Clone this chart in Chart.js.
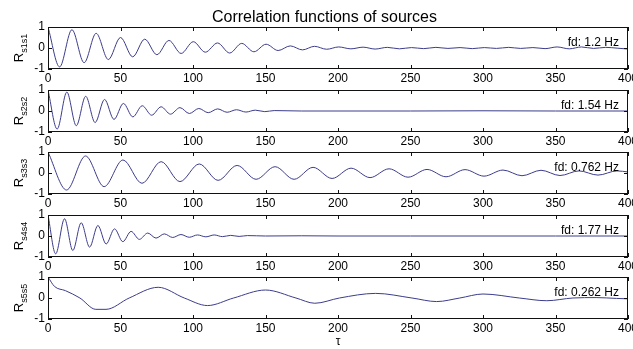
<!DOCTYPE html>
<html><head><meta charset="utf-8">
<script src="https://cdn.jsdelivr.net/npm/chart.js@4.4.0/dist/chart.umd.min.js"></script>
<style>
html,body{margin:0;padding:0;background:#fff;}
#wrap{position:relative;width:633px;height:349px;overflow:hidden;background:#fff;}
.cv{position:absolute;left:0;top:0;width:633px;height:349px;}
</style></head><body>
<div id="wrap">
<div class="cv"><canvas id="c0"></canvas></div>
<div class="cv"><canvas id="c1"></canvas></div>
<div class="cv"><canvas id="c2"></canvas></div>
<div class="cv"><canvas id="c3"></canvas></div>
<div class="cv"><canvas id="c4"></canvas></div>
</div>
<script>
// ---- data ----
const titleText = 'Correlation functions of sources';
const xLabel = 'τ';
const xTicks = [0, 50, 100, 150, 200, 250, 300, 350, 400];
const yTicks = [-1, 0, 1];
const subs = ['s1s1', 's2s2', 's3s3', 's4s4', 's5s5'];
const fdLabels = ['fd: 1.2 Hz', 'fd: 1.54 Hz', 'fd: 0.762 Hz', 'fd: 1.77 Hz', 'fd: 0.262 Hz'];

const tau1 = [0, 8, 16.5, 24.9, 33.2, 41.6, 50, 58.4, 66.7, 75.1, 83.4, 91.8, 100.2, 108.5, 116.9, 125.3, 133.6, 142, 150.4, 158.7, 167.1, 175.5, 183.8, 192.2, 200.5, 208.9, 217.3, 225.6, 234, 242.4, 250.7, 259.1, 267.5, 275.8, 284.2, 292.6, 300.9, 309.3, 317.7, 326, 334.4, 342.8, 351.1, 359.5, 367.9, 376.2, 384.6, 393, 400];
const r1 = [1, -0.9, 0.87, -0.7, 0.7, -0.55, 0.5, -0.42, 0.42, -0.32, 0.36, -0.26, 0.3, -0.2, 0.24, -0.24, 0.22, -0.18, 0.18, -0.12, 0.1, -0.09, 0.08, -0.06, 0.05, -0.04, 0.04, -0.05, 0.03, -0.04, 0.02, -0.03, 0.03, -0.02, 0.02, -0.03, 0.02, -0.02, 0.03, -0.02, 0.02, -0.03, 0.05, -0.04, 0.05, -0.02, 0.03, -0.01, -0.05];

const tau2 = [0, 6.3, 13, 19.5, 26, 32.5, 39, 45.5, 52, 58.5, 65, 71.5, 78, 84.5, 91, 97.5, 104, 110.5, 117, 123.5, 130, 136.5, 143, 149.5, 156, 175, 200, 250, 300, 350, 400];
const r2 = [1, -0.86, 0.9, -0.7, 0.7, -0.55, 0.55, -0.4, 0.36, -0.28, 0.25, -0.2, 0.2, -0.15, 0.16, -0.12, 0.12, -0.08, 0.1, -0.06, 0.06, -0.05, 0.04, -0.03, 0.02, 0, 0, 0, 0.01, 0, 0];

const tau3 = [0, 12.8, 25.9, 38.7, 51.7, 64.8, 78, 91, 104.3, 117.3, 130.4, 143.5, 156.6, 169.7, 182.8, 195.9, 209, 222.1, 235.2, 248.3, 261.4, 274.5, 287.6, 300.7, 313.8, 326.9, 340, 353.1, 366.2, 379.3, 392.4, 400];
const r3 = [1, -0.81, 0.81, -0.65, 0.62, -0.49, 0.54, -0.41, 0.43, -0.35, 0.36, -0.3, 0.3, -0.3, 0.27, -0.26, 0.23, -0.22, 0.2, -0.2, 0.17, -0.18, 0.16, -0.15, 0.14, -0.13, 0.13, -0.12, 0.1, -0.1, 0.1, 0.05];

const tau4 = [0, 5.3, 11.4, 17.1, 22.9, 28.7, 34.4, 40.1, 45.9, 51.6, 57.3, 63, 68.8, 74.5, 80.2, 86, 91.7, 97.4, 103.1, 108.9, 114.6, 120.3, 126, 131.8, 137.5, 150, 175, 200, 250, 300, 350, 400];
const r4 = [1, -0.85, 0.82, -0.69, 0.63, -0.53, 0.5, -0.38, 0.34, -0.27, 0.22, -0.16, 0.14, -0.1, 0.1, -0.07, 0.07, -0.06, 0.05, -0.04, 0.05, -0.03, 0.03, -0.02, 0.02, 0, 0.01, 0, 0, 0, 0, 0];

const tau5 = [0, 4.5, 12, 22, 33, 40, 56, 76, 94, 110, 128, 150, 171, 184, 201, 226, 251, 268, 284, 300, 325, 344, 362, 378, 392, 400];
const r5 = [1, 0.55, 0.35, 0, -0.54, -0.54, 0, 0.51, 0, -0.36, 0, 0.38, 0, -0.25, 0, 0.22, 0, -0.17, 0, 0.19, 0, -0.13, 0, 0.02, -0.02, -0.04];

const taus = [tau1, tau2, tau3, tau4, tau5];
const vals = [r1, r2, r3, r4, r5];

// ---- layout / style ----
const FONT = '"Liberation Sans", Arial, Helvetica, sans-serif';
const W = 633, HT = 349;
const TOPS = [27, 90, 152, 215, 277];
const PH = 42, LEFT = 48, RIGHT = 628;
const LINE = '#3c3c8c';

const decor = {
  id: 'decor',
  afterDatasetsDraw(chart, args, opts) {
    const { ctx, chartArea: a, scales: { x, y } } = chart;
    ctx.save();
    ctx.strokeStyle = '#111';
    ctx.lineWidth = 1;
    ctx.strokeRect(Math.round(a.left) + 0.5, Math.round(a.top) + 0.5, Math.round(a.right - a.left) - 1, Math.round(a.bottom - a.top) - 1);
    ctx.beginPath();
    xTicks.forEach(v => {
      const px = Math.round(x.getPixelForValue(v)) + 0.5;
      ctx.moveTo(px, a.top); ctx.lineTo(px, a.top + 4);
      ctx.moveTo(px, a.bottom); ctx.lineTo(px, a.bottom - 4);
    });
    yTicks.forEach(v => {
      const py = Math.round(y.getPixelForValue(v)) + 0.5;
      ctx.moveTo(a.left, py); ctx.lineTo(a.left + 4, py);
      ctx.moveTo(a.right, py); ctx.lineTo(a.right - 4, py);
    });
    ctx.stroke();
    // fd label
    ctx.fillStyle = '#000';
    ctx.font = '12px ' + FONT;
    ctx.textAlign = 'right';
    ctx.textBaseline = 'middle';
    ctx.fillText(opts.fd, 619, (a.top + a.bottom) / 2 - 5);
    // y label R_sub (rotated)
    const cy = (a.top + a.bottom) / 2;
    ctx.translate(23, cy);
    ctx.rotate(-Math.PI / 2);
    ctx.font = '13px ' + FONT;
    const wR = ctx.measureText('R').width;
    ctx.font = '9px ' + FONT;
    const wS = ctx.measureText(opts.sub).width;
    const start = -(wR + wS) / 2;
    ctx.textAlign = 'left';
    ctx.textBaseline = 'alphabetic';
    ctx.font = '13px ' + FONT;
    ctx.fillText('R', start, 0);
    ctx.font = '9px ' + FONT;
    ctx.fillText(opts.sub, start + wR, 4);
    ctx.restore();
  }
};

function makeChart(i) {
  const isFirst = i === 0, isLast = i === 4;
  const top = TOPS[i];
  const xH = isLast ? 30 : 16;
  const padLeft = isFirst ? 21 : 0;
  const yW = LEFT - padLeft;
  const data = taus[i].map((t, k) => ({ x: t, y: vals[i][k] }));
  return new Chart(document.getElementById('c' + i), {
    type: 'line',
    data: { datasets: [{ data, borderColor: LINE, borderWidth: 1, pointRadius: 0, fill: false, cubicInterpolationMode: 'monotone' }] },
    options: {
      responsive: true,
      maintainAspectRatio: false,
      animation: false,
      events: [],
      layout: { padding: { left: padLeft, right: W - RIGHT, top: isFirst ? 0 : top, bottom: HT - (top + PH) - xH } },
      plugins: {
        legend: { display: false },
        tooltip: { enabled: false },
        title: isFirst ? { display: true, text: titleText, color: '#000', font: { family: FONT, size: 16, weight: 'normal' }, padding: { top: 7.8, bottom: 0 } } : { display: false },
        decor: { sub: subs[i], fd: fdLabels[i] }
      },
      scales: {
        x: {
          type: 'linear', min: 0, max: 400,
          afterBuildTicks: s => { s.ticks = xTicks.map(v => ({ value: v })); },
          ticks: { color: '#000', font: { family: FONT, size: 12 }, padding: 2, maxRotation: 0, autoSkip: false },
          grid: { display: false, drawTicks: false },
          border: { display: false },
          title: isLast ? { display: true, text: xLabel, color: '#000', font: { family: FONT, size: 12 }, padding: { top: 0, bottom: 0 } } : { display: false },
          afterFit: s => { s.height = xH; s.paddingLeft = 0; s.paddingRight = 0; }
        },
        y: {
          min: -1, max: 1,
          afterBuildTicks: s => { s.ticks = yTicks.map(v => ({ value: v })); },
          ticks: { color: '#000', font: { family: FONT, size: 12 }, padding: 3 },
          grid: { display: false, drawTicks: false },
          border: { display: false },
          afterFit: s => { s.width = yW; s.paddingTop = 0; s.paddingBottom = 0; }
        }
      }
    },
    plugins: [decor]
  });
}
for (let i = 0; i < 5; i++) makeChart(i);
</script>
</body></html>
